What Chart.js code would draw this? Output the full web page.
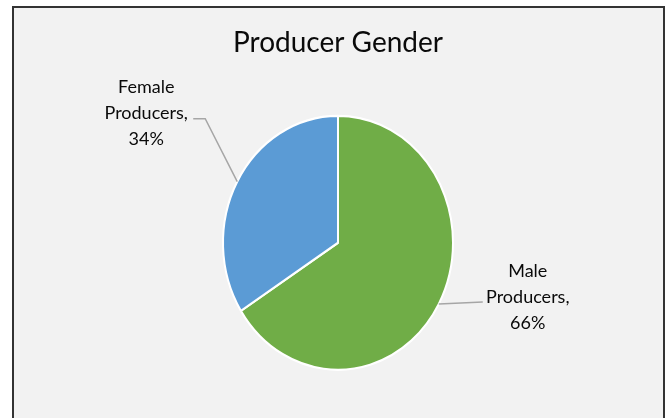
<!DOCTYPE html>
<html>
<head>
<meta charset="utf-8">
<script src="https://cdn.jsdelivr.net/npm/chart.js@4"></script>
<style>
  html, body { margin: 0; padding: 0; background: #ffffff; }
  #frame {
    position: absolute; left: 12px; top: 6px;
    width: 649px; height: 420px;
    border: 2px solid #333333; border-bottom: none;
    background: #f2f2f2;
  }
  #wrap { position: absolute; left: 0; top: 0; width: 668px; height: 418px; }
</style>
</head>
<body>
<div id="frame"></div>
<div id="wrap"><canvas id="chart"></canvas></div>
<script>
// Data
const categories = ["Male Producers", "Female Producers"]
const shares = [66, 34]
const sliceColors = ["#70ad47", "#5b9bd5"]

// Excel draws this pie slightly taller than wide
const pieStretchY = 1.104

// Label placement relative to the point where the leader line leaves the slice
const labelLayout = [
  { leader: [[44, -2]], text: [89, -6.5] },
  { leader: [[-32, -63], [-44, -63]], text: [-91, -68.5] }
]

const labelFont = "18px Lato"
const labelLineHeight = 26

function stretchAround(ctx, x, y) {
  ctx.translate(x, y)
  ctx.scale(1, pieStretchY)
  ctx.translate(-x, -y)
}

// Stretch the arcs vertically
const ellipsePlugin = {
  id: "ellipse",
  beforeDatasetsDraw(chart) {
    const arc = chart.getDatasetMeta(0).data[0]
    chart.ctx.save()
    stretchAround(chart.ctx, arc.x, arc.y)
  },
  afterDatasetsDraw(chart) {
    chart.ctx.restore()
  }
}

// Outside labels with leader lines, Excel style
const outsideLabels = {
  id: "outsideLabels",
  afterDraw(chart) {
    const ctx = chart.ctx
    const meta = chart.getDatasetMeta(0)
    const total = shares.reduce((a, b) => a + b, 0)

    meta.data.forEach((arc, i) => {
      const mid = (arc.startAngle + arc.endAngle) / 2
      const ex = arc.x + Math.cos(mid) * arc.outerRadius
      const ey = arc.y + Math.sin(mid) * arc.outerRadius * pieStretchY
      const layout = labelLayout[i]

      ctx.save()
      ctx.strokeStyle = "#a6a6a6"
      ctx.lineWidth = 1.5
      ctx.beginPath()
      ctx.moveTo(ex, ey)
      layout.leader.forEach(p => ctx.lineTo(ex + p[0], ey + p[1]))
      ctx.stroke()

      const words = categories[i].split(" ")
      const pct = Math.round(shares[i] / total * 100) + "%"
      const lines = [words[0], words[1] + ",", pct]
      ctx.fillStyle = "#0a0a0a"
      ctx.font = labelFont
      ctx.textAlign = "center"
      ctx.textBaseline = "middle"
      const cx = ex + layout.text[0]
      const cy = ey + layout.text[1]
      lines.forEach((line, k) => {
        ctx.fillText(line, cx, cy + (k - 1) * labelLineHeight)
      })
      ctx.restore()
    })
  }
}

Chart.defaults.font.family = "Lato, 'Open Sans', sans-serif"

new Chart(document.getElementById("chart"), {
  type: "pie",
  data: {
    labels: categories,
    datasets: [{
      data: shares,
      backgroundColor: sliceColors,
      borderColor: "#ffffff",
      borderWidth: 2,
      hoverOffset: 0
    }]
  },
  options: {
    responsive: true,
    maintainAspectRatio: false,
    animation: false,
    events: [],
    layout: {
      padding: { left: 222, right: 214, top: 0, bottom: 2 }
    },
    plugins: {
      legend: { display: false },
      tooltip: { enabled: false },
      title: {
        display: true,
        text: "Producer Gender",
        color: "#0a0a0a",
        font: { size: 28, weight: "normal" },
        padding: { top: 26, bottom: 10 }
      }
    }
  },
  plugins: [ellipsePlugin, outsideLabels]
})
</script>
</body>
</html>
